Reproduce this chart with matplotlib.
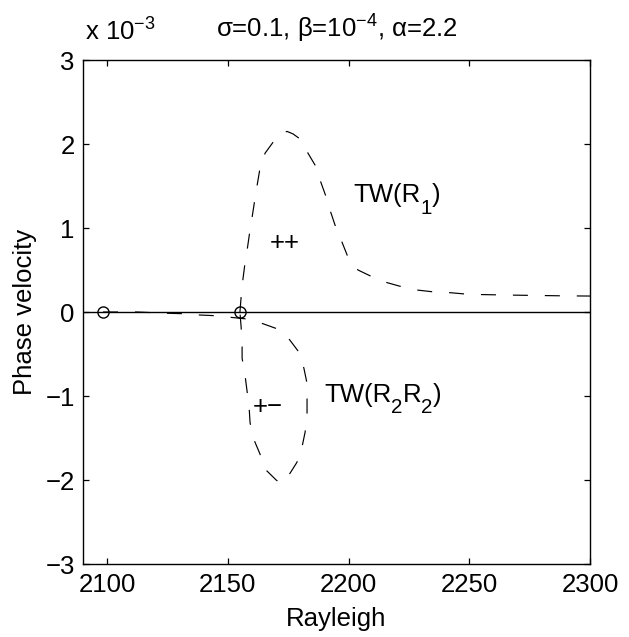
import matplotlib
matplotlib.use("Agg")
import matplotlib.pyplot as plt

plt.rcParams['font.family'] = ['Liberation Sans', 'DejaVu Sans']
plt.rcParams['mathtext.fontset'] = 'custom'
plt.rcParams['mathtext.rm'] = 'Liberation Sans'
plt.rcParams['mathtext.it'] = 'Liberation Sans:italic'
plt.rcParams['mathtext.bf'] = 'Liberation Sans:bold'
plt.rcParams['lines.scale_dashes'] = False

# Phase velocity values are in units of 1e-3
r1_x = [2155.0, 2155.5, 2156.2, 2157.0, 2158.0, 2159.0, 2160.0, 2161.5, 2163.3, 2165.4,
        2168.7, 2171.5, 2174.5, 2177.0, 2179.9, 2183.2, 2186.1, 2188.2, 2190.7, 2192.7,
        2194.8, 2197.3, 2199.8, 2203.9, 2209.7, 2215.9, 2222.1, 2228.8, 2235.0, 2242.0,
        2250.0, 2260.0, 2270.0, 2280.0, 2290.0, 2300.0]
r1_y = [0.0, 0.18, 0.38, 0.56, 0.74, 0.94, 1.12, 1.40, 1.71, 1.89,
        2.02, 2.12, 2.15, 2.12, 2.06, 1.89, 1.75, 1.57, 1.37, 1.18,
        1.00, 0.83, 0.65, 0.50, 0.42, 0.35, 0.30, 0.26, 0.24, 0.23,
        0.21, 0.205, 0.20, 0.196, 0.192, 0.19]

r2_x = [2098.3, 2112.4, 2124.8, 2131.4, 2138.5, 2145.5, 2151.7, 2157.9, 2164.6, 2170.4,
        2175.3, 2179.5, 2181.5, 2182.8, 2182.8, 2182.8, 2182.0, 2180.7, 2178.6, 2175.3,
        2172.0, 2170.0, 2165.4, 2163.3, 2160.8, 2159.2, 2158.8, 2157.9, 2157.1, 2155.9,
        2155.9, 2155.5, 2155.0]
r2_y = [0.0, 0.0, -0.015, -0.02, -0.036, -0.045, -0.065, -0.083, -0.14, -0.20,
        -0.32, -0.48, -0.67, -0.85, -1.11, -1.23, -1.43, -1.61, -1.79, -1.94,
        -2.04, -2.00, -1.87, -1.69, -1.52, -1.32, -1.13, -0.93, -0.75, -0.55,
        -0.37, -0.18, 0.0]

bif_x = [2098.3, 2155.0]
bif_y = [0.0, 0.0]

xticks = [2100, 2150, 2200, 2250, 2300]
yticks = [-3, -2, -1, 0, 1, 2, 3]

FS = 18.5
SUB = 0.8 * FS
DROP = 8.5  # points
DESC = 0.212


def sub_text(ax, x, y, pieces):
    """pieces: list of (string, is_subscript). Draws MATLAB-like subscripts."""
    first = ax.text(x, y, pieces[0][0], fontsize=FS, ha='left', va='baseline')
    prev = first
    for s, is_sub in pieces[1:]:
        fs = SUB if is_sub else FS
        dy = DESC * (FS - fs) - (DROP if is_sub else 0.0)
        prev = ax.annotate(s, xy=(1, 0), xycoords=(prev, first),
                           xytext=(0, dy), textcoords='offset points',
                           fontsize=fs, ha='left', va='bottom')
    return first


fig = plt.figure(figsize=(6.29, 6.37), dpi=100)
ax = fig.add_axes([83/629, 1 - 564/637, (590 - 83)/629, (564 - 60)/637])

ax.axhline(0, color='black', lw=1.0)
ax.plot(r1_x, r1_y, color='black', lw=0.85, dashes=(10.8, 12.2))
ax.plot(r2_x, r2_y, color='black', lw=0.85, dashes=(10.8, 12.2))
ax.plot(bif_x, bif_y, linestyle='none', marker='o', markersize=8,
        markerfacecolor='none', markeredgecolor='black', markeredgewidth=1.0)

sub_text(ax, 2201.8, 1.31, [('TW(R', False), ('1', True), (')', False)])
sub_text(ax, 2189.8, -1.068, [('TW(R', False), ('2', True), ('R', False),
                              ('2', True), (')', False)])
ax.text(2173.5, 0.82, '++', fontsize=FS, ha='center', va='center')
ax.text(2166.6, -1.13, '+\u2212', fontsize=FS, ha='center', va='center')

ax.set_xlim(2090, 2300)
ax.set_ylim(-3, 3)
ax.set_xticks(xticks)
ax.set_yticks(yticks)
ax.set_yticklabels([str(v).replace('-', '\u2212') for v in yticks])
ax.tick_params(direction='in', top=True, right=True, length=4.5, width=0.9,
               labelsize=FS)
ax.tick_params(axis='x', pad=6.5)
ax.tick_params(axis='y', pad=6)
for s in ax.spines.values():
    s.set_linewidth(1.0)

ax.set_xlabel('Rayleigh', fontsize=FS, labelpad=7)
ax.set_ylabel('Phase velocity', fontsize=FS, labelpad=6)
ax.set_title('\u03c3=0.1, \u03b2=10$^{\u22124}$, \u03b1=2.2', fontsize=FS, pad=16)
ax.text(0.004, 1.0 + 19/504, 'x 10$^{\u22123}$', transform=ax.transAxes,
        fontsize=FS, ha='left', va='baseline')

fig.savefig('out.png', dpi=100)
